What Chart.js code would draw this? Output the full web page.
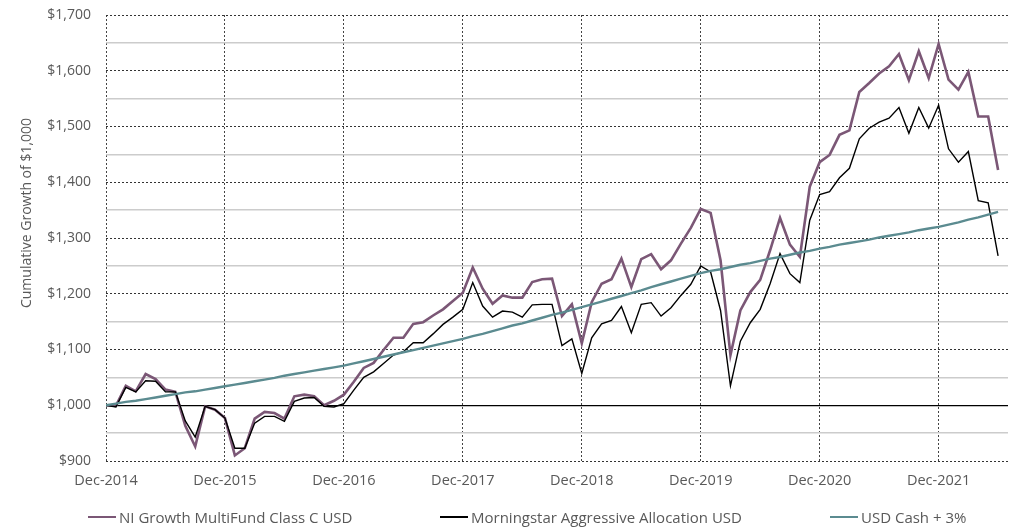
<!DOCTYPE html>
<html lang="en">
<head>
<meta charset="UTF-8">
<title>Cumulative Growth of $1,000</title>
<style>
  body { margin: 0; background: #fff; }
  #wrap { position: relative; width: 1015px; height: 529px; }
  #legend { position: absolute; left: 0; top: 508px; width: 1015px; height: 18px;
            font: 15px "Open Sans", sans-serif; color: #595959; line-height: 18px; }
  .item { position: absolute; top: 0; display: flex; align-items: center; white-space: nowrap; }
  .swatch { width: 28px; height: 2.5px; margin-right: 3px; }
</style>
</head>
<body>
<div id="wrap">
  <canvas id="chart" width="1015" height="529"></canvas>
  <div id="legend"></div>
</div>
<script src="https://cdn.jsdelivr.net/npm/chart.js@4.4.0/dist/chart.umd.min.js"></script>
<script>
// month index 0 = Dec-2014, one point per month to Jun-2022
const yearTicks = ['Dec-2014', 'Dec-2015', 'Dec-2016', 'Dec-2017', 'Dec-2018', 'Dec-2019', 'Dec-2020', 'Dec-2021'];
const seriesNames = ['NI Growth MultiFund Class C USD', 'Morningstar Aggressive Allocation USD', 'USD Cash + 3%'];

const fund = [1000, 999, 1035, 1025, 1056, 1047, 1028, 1024, 963, 926, 998, 992, 977,
  910, 923, 976, 988, 986, 976, 1016, 1019, 1016, 1000, 1008, 1019,
  1042, 1067, 1076, 1099, 1121, 1121, 1146, 1149, 1161, 1172, 1187, 1202,
  1247, 1209, 1182, 1197, 1193, 1193, 1221, 1226, 1227, 1160, 1181, 1111,
  1185, 1218, 1226, 1263, 1212, 1262, 1271, 1244, 1260, 1290, 1318, 1352,
  1345, 1260, 1090, 1170, 1203, 1225, 1278, 1336, 1288, 1266, 1392, 1436,
  1449, 1485, 1493, 1562, 1578, 1595, 1608, 1630, 1583, 1635, 1587, 1648,
  1584, 1566, 1598, 1518, 1518, 1422];

const peers = [1000, 997, 1032, 1024, 1044, 1043, 1024, 1024, 972, 943, 998, 992, 977,
  923, 923, 968, 980, 980, 971, 1007, 1013, 1014, 998, 997, 1003,
  1027, 1050, 1060, 1075, 1090, 1096, 1112, 1112, 1128, 1145, 1158, 1172,
  1220, 1178, 1158, 1169, 1167, 1158, 1180, 1181, 1181, 1107, 1119, 1057,
  1121, 1146, 1152, 1177, 1130, 1181, 1184, 1160, 1175, 1197, 1217, 1250,
  1239, 1170, 1035, 1115, 1148, 1172, 1218, 1272, 1236, 1220, 1332, 1378,
  1383, 1408, 1425, 1478, 1497, 1508, 1515, 1534, 1488, 1534, 1497, 1538,
  1460, 1436, 1455, 1367, 1363, 1268];

const cash = [1000, 1003, 1006, 1008, 1011, 1014, 1017, 1020, 1023, 1025, 1028, 1031, 1034,
  1037, 1040, 1043, 1046, 1049, 1053, 1056, 1059, 1062, 1065, 1068, 1071,
  1075, 1079, 1083, 1087, 1091, 1095, 1099, 1103, 1107, 1111, 1115, 1119,
  1124, 1128, 1133, 1138, 1143, 1147, 1152, 1157, 1162, 1166, 1171, 1176,
  1181, 1186, 1191, 1196, 1201, 1206, 1212, 1217, 1222, 1227, 1232, 1237,
  1241, 1244, 1248, 1252, 1255, 1259, 1263, 1266, 1270, 1274, 1277, 1281,
  1284, 1288, 1291, 1294, 1297, 1301, 1304, 1307, 1310, 1314, 1317, 1320,
  1324, 1328, 1333, 1337, 1342, 1347];

const colors = ['#7b5776', '#000000', '#5b8b90'];
const fontFamily = '"Open Sans", sans-serif';
const textColor = '#595959';

const toPoints = arr => arr.map((v, i) => ({ x: i, y: v }));

// y title sits a bit above the middle of the axis in the original
const yTitle = {
  id: 'yTitle',
  afterDraw(chart) {
    const c = chart.ctx;
    c.save();
    c.translate(27, 213);
    c.rotate(-Math.PI / 2);
    c.font = '14px ' + fontFamily;
    c.fillStyle = textColor;
    c.textAlign = 'center';
    c.textBaseline = 'middle';
    c.fillText('Cumulative Growth of $1,000', 0, 0);
    c.restore();
  }
};

const ctx = document.getElementById('chart');
const chart = new Chart(ctx, {
  type: 'line',
  data: {
    datasets: [
      { label: seriesNames[0], data: toPoints(fund), borderColor: colors[0], backgroundColor: colors[0], borderWidth: 2.6, order: 3 },
      { label: seriesNames[1], data: toPoints(peers), borderColor: colors[1], backgroundColor: colors[1], borderWidth: 1.4, order: 2 },
      { label: seriesNames[2], data: toPoints(cash), borderColor: colors[2], backgroundColor: colors[2], borderWidth: 2.4, order: 1 }
    ]
  },
  options: {
    responsive: false,
    animation: false,
    elements: { point: { radius: 0 }, line: { tension: 0 } },
    layout: { padding: { top: 15, right: 7, bottom: 38, left: 0 } },
    plugins: { legend: { display: false }, tooltip: { enabled: false } },
    scales: {
      x: {
        type: 'linear',
        min: 0,
        max: 91,
        afterFit: s => { s.height = 30; },
        ticks: {
          stepSize: 12,
          includeBounds: false,
          autoSkip: false,
          maxRotation: 0,
          padding: 11,
          color: textColor,
          font: { family: fontFamily, size: 14.5 },
          callback: v => yearTicks[v / 12] ?? ''
        },
        grid: { color: '#444', lineWidth: 1, drawTicks: false },
        border: { display: false, dash: [2, 2] }
      },
      y: {
        min: 900,
        max: 1700,
        // fixed axis width, and let layout padding decide the top edge
        afterFit: s => { s.width = 106; s.paddingTop = 0; s.paddingBottom = 0; },
        ticks: {
          stepSize: 50,
          autoSkip: false,
          padding: 15,
          color: textColor,
          font: { family: fontFamily, size: 14 },
          callback: v => v % 100 === 0 ? '$' + v.toLocaleString('en-US') : ''
        },
        grid: {
          drawTicks: false,
          color: c => {
            const v = c.tick ? c.tick.value : 0;
            if (v === 1000) return '#000';
            return v % 100 === 0 ? '#333' : '#cccccc';
          },
          lineWidth: c => {
            const v = c.tick ? c.tick.value : 0;
            if (v === 1000) return 1.3;
            return v % 100 === 0 ? 1 : 1.6;
          }
        },
        border: {
          display: false,
          dash: c => (c.tick && c.tick.value % 100 === 0 && c.tick.value !== 1000) ? [2, 2] : []
        }
      }
    }
  },
  plugins: [yTitle]
});

// legend under the plot
const legendLeft = [88, 440, 830];
const legendEl = document.getElementById('legend');
seriesNames.forEach((name, i) => {
  const item = document.createElement('div');
  item.className = 'item';
  item.style.left = legendLeft[i] + 'px';
  item.innerHTML = '<span class="swatch" style="background:' + colors[i] + '"></span><span>' + name + '</span>';
  legendEl.appendChild(item);
});
</script>
</body>
</html>
